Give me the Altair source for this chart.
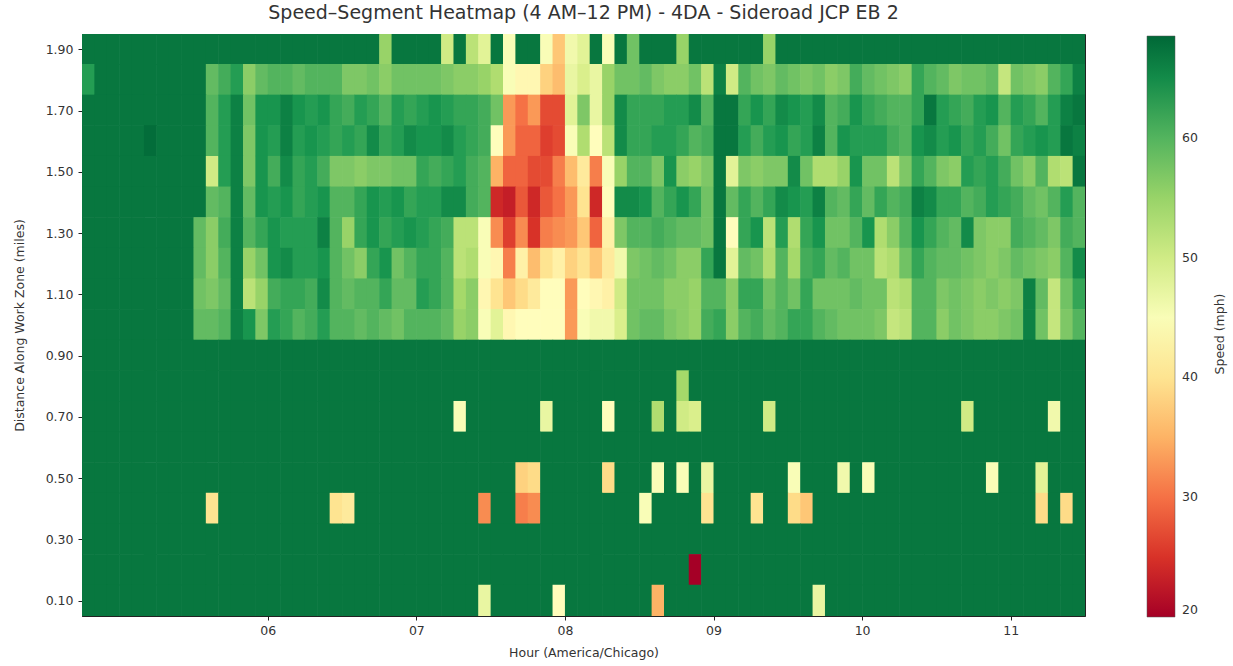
import altair as alt
import pandas as pd

# ---- axis / bin definitions ----
START_HOUR = 4.75          # first 5-minute bin starts at 04:45
BIN_MINUTES = 5
N_BINS = 81
distances = [1.9, 1.8, 1.7, 1.6, 1.5, 1.4, 1.3, 1.2, 1.1, 1.0,
             0.9, 0.8, 0.7, 0.6, 0.5, 0.4, 0.3, 0.2, 0.1]
x_ticks = [6, 7, 8, 9, 10, 11]
y_ticks = [0.1, 0.3, 0.5, 0.7, 0.9, 1.1, 1.3, 1.5, 1.7, 1.9]
cbar_ticks = [20, 30, 40, 50, 60]

# ---- speeds (mph), one list per distance row, 81 five-minute bins each ----
row_1_9 = [67, 67, 67, 67, 67, 67, 67, 67, 67, 67,
           67, 67, 67, 67, 67, 67, 67, 67, 67, 67,
           67, 67, 67, 67, 55, 67, 67, 67, 67, 50,
           67, 52, 48, 67, 45, 67, 67, 45, 37, 46,
           48, 67, 45, 67, 58, 67, 67, 67, 55, 67,
           67, 67, 67, 67, 67, 55, 67, 67, 67, 67,
           67, 67, 67, 67, 67, 67, 67, 67, 67, 67,
           67, 67, 67, 67, 67, 67, 67, 67, 67, 67,
           67]
row_1_8 = [63, 67, 67, 67, 67, 67, 67, 67, 67, 67,
           59, 61, 63, 56, 59, 60, 60, 59, 60, 60,
           60, 57, 57, 58, 56, 58, 58, 58, 58, 57,
           56, 56, 55, 53, 45, 43, 43, 38, 36, 47,
           49, 47, 55, 58, 58, 59, 57, 56, 56, 58,
           52, 66, 50, 60, 58, 57, 59, 58, 57, 58,
           56, 57, 61, 59, 58, 57, 56, 62, 60, 59,
           57, 58, 58, 59, 51, 58, 57, 56, 60, 62,
           66]
row_1_7 = [67, 67, 67, 67, 67, 67, 67, 67, 67, 67,
           60, 63, 66, 58, 64, 64, 66, 64, 63, 64,
           62, 61, 63, 62, 60, 63, 62, 63, 64, 63,
           62, 62, 61, 58, 33, 30, 33, 27, 27, 48,
           57, 47, 55, 65, 62, 62, 62, 63, 63, 65,
           60, 67, 67, 62, 64, 62, 65, 64, 63, 65,
           60, 61, 64, 62, 61, 60, 60, 62, 67, 63,
           62, 61, 63, 64, 60, 63, 62, 60, 63, 66,
           67]
row_1_6 = [67, 67, 67, 67, 67, 68, 67, 67, 67, 67,
           60, 63, 66, 57, 64, 63, 66, 63, 64, 63,
           62, 63, 62, 65, 62, 63, 65, 64, 64, 65,
           63, 62, 61, 44, 33, 29, 29, 26, 27, 45,
           53, 44, 52, 65, 62, 62, 63, 63, 62, 60,
           61, 67, 67, 63, 61, 63, 64, 62, 63, 66,
           60, 64, 63, 63, 63, 61, 60, 64, 65, 63,
           64, 62, 63, 61, 58, 62, 63, 64, 63, 67,
           66]
row_1_5 = [67, 67, 67, 67, 67, 67, 67, 67, 67, 67,
           50, 63, 66, 57, 64, 61, 65, 62, 63, 61,
           57, 57, 56, 57, 57, 58, 58, 62, 61, 62,
           63, 61, 60, 35, 29, 29, 27, 27, 31, 36,
           41, 31, 45, 55, 60, 60, 57, 64, 56, 55,
           57, 67, 48, 57, 56, 57, 57, 65, 58, 53,
           53, 55, 64, 58, 58, 52, 57, 62, 60, 57,
           56, 63, 62, 63, 61, 58, 56, 60, 53, 52,
           67]
row_1_4 = [67, 67, 67, 67, 67, 67, 67, 67, 67, 67,
           59, 60, 66, 59, 64, 63, 64, 62, 63, 64,
           60, 60, 62, 64, 63, 64, 62, 63, 63, 65,
           65, 61, 60, 24, 23, 28, 24, 28, 30, 33,
           40, 24, 44, 65, 65, 64, 60, 62, 64, 62,
           58, 67, 59, 62, 60, 62, 65, 64, 63, 66,
           60, 59, 62, 59, 62, 60, 61, 66, 65, 62,
           62, 60, 61, 63, 62, 61, 59, 58, 60, 63,
           60]
row_1_3 = [67, 67, 67, 67, 67, 67, 67, 67, 67, 59,
           56, 61, 66, 60, 62, 64, 63, 63, 63, 66,
           60, 55, 62, 64, 62, 63, 64, 63, 62, 61,
           52, 52, 45, 32, 26, 32, 25, 31, 32, 33,
           37, 29, 42, 57, 60, 60, 61, 60, 59, 59,
           58, 67, 44, 62, 64, 52, 63, 53, 62, 64,
           58, 58, 60, 64, 53, 56, 60, 64, 62, 60,
           59, 65, 57, 56, 56, 61, 60, 59, 57, 61,
           60]
row_1_2 = [67, 67, 67, 67, 67, 67, 67, 67, 67, 59,
           56, 60, 66, 55, 58, 64, 65, 63, 63, 64,
           60, 58, 56, 62, 64, 58, 60, 62, 62, 60,
           52, 53, 45, 43, 31, 42, 36, 40, 42, 38,
           40, 37, 41, 46, 57, 58, 59, 58, 56, 56,
           62, 67, 48, 59, 58, 53, 60, 54, 61, 62,
           59, 60, 58, 58, 52, 53, 58, 62, 60, 59,
           59, 58, 57, 56, 57, 59, 58, 57, 56, 60,
           65]
row_1_1 = [67, 67, 67, 67, 67, 67, 67, 67, 67, 58,
           57, 59, 66, 52, 55, 61, 62, 62, 61, 65,
           60, 59, 60, 60, 62, 59, 59, 63, 62, 60,
           54, 56, 43, 40, 37, 39, 41, 44, 44, 33,
           44, 43, 42, 50, 58, 58, 58, 56, 56, 55,
           60, 60, 56, 62, 62, 58, 60, 58, 62, 58,
           58, 58, 59, 58, 58, 52, 53, 60, 60, 57,
           58, 57, 56, 57, 56, 57, 66, 59, 51, 58,
           62]
row_1_0 = [67, 67, 67, 67, 67, 67, 67, 67, 67, 59,
           59, 60, 66, 64, 57, 63, 62, 60, 61, 63,
           60, 60, 59, 60, 59, 58, 60, 60, 60, 59,
           55, 56, 45, 48, 43, 44, 44, 44, 44, 33,
           45, 46, 46, 49, 58, 59, 59, 57, 56, 55,
           61, 62, 56, 60, 61, 59, 60, 62, 62, 60,
           59, 58, 58, 58, 57, 51, 52, 60, 60, 56,
           58, 57, 56, 56, 57, 58, 66, 58, 51, 57,
           60]
row_0_9 = [67, 67, 67, 67, 67, 67, 67, 67, 67, 67,
           67, 67, 67, 67, 67, 67, 67, 67, 67, 67,
           67, 67, 67, 67, 67, 67, 67, 67, 67, 67,
           67, 67, 67, 67, 67, 67, 67, 67, 67, 67,
           67, 67, 67, 67, 67, 67, 67, 67, 67, 67,
           67, 67, 67, 67, 67, 67, 67, 67, 67, 67,
           67, 67, 67, 67, 67, 67, 67, 67, 67, 67,
           67, 67, 67, 67, 67, 67, 67, 67, 67, 67,
           67]
row_0_8 = [67, 67, 67, 67, 67, 67, 67, 67, 67, 67,
           67, 67, 67, 67, 67, 67, 67, 67, 67, 67,
           67, 67, 67, 67, 67, 67, 67, 67, 67, 67,
           67, 67, 67, 67, 67, 67, 67, 67, 67, 67,
           67, 67, 67, 67, 67, 67, 67, 67, 54, 67,
           67, 67, 67, 67, 67, 67, 67, 67, 67, 67,
           67, 67, 67, 67, 67, 67, 67, 67, 67, 67,
           67, 67, 67, 67, 67, 67, 67, 67, 67, 67,
           67]
row_0_7 = [67, 67, 67, 67, 67, 67, 67, 67, 67, 67,
           67, 67, 67, 67, 67, 67, 67, 67, 67, 67,
           67, 67, 67, 67, 67, 67, 67, 67, 67, 67,
           45, 67, 67, 67, 67, 67, 67, 47, 67, 67,
           67, 67, 44, 67, 67, 67, 53, 67, 50, 49,
           67, 67, 67, 67, 67, 50, 67, 67, 67, 67,
           67, 67, 67, 67, 67, 67, 67, 67, 67, 67,
           67, 50, 67, 67, 67, 67, 67, 67, 46, 67,
           67]
row_0_6 = [67, 67, 67, 67, 67, 67, 67, 67, 67, 67,
           67, 67, 67, 67, 67, 67, 67, 67, 67, 67,
           67, 67, 67, 67, 67, 67, 67, 67, 67, 67,
           67, 67, 67, 67, 67, 67, 67, 67, 67, 67,
           67, 67, 67, 67, 67, 67, 67, 67, 67, 67,
           67, 67, 67, 67, 67, 67, 67, 67, 67, 67,
           67, 67, 67, 67, 67, 67, 67, 67, 67, 67,
           67, 67, 67, 67, 67, 67, 67, 67, 67, 67,
           67]
row_0_5 = [67, 67, 67, 67, 67, 67, 67, 67, 67, 67,
           67, 67, 67, 67, 67, 67, 67, 67, 67, 67,
           67, 67, 67, 67, 67, 67, 67, 67, 67, 67,
           67, 67, 67, 67, 67, 38, 39, 67, 67, 67,
           67, 67, 39, 67, 67, 67, 45, 67, 45, 67,
           47, 67, 67, 67, 67, 67, 67, 45, 67, 67,
           67, 46, 67, 45, 67, 67, 67, 67, 67, 67,
           67, 67, 67, 45, 67, 67, 67, 48, 67, 67,
           67]
row_0_4 = [67, 67, 67, 67, 67, 67, 67, 67, 67, 67,
           40, 67, 67, 67, 67, 67, 67, 67, 67, 67,
           40, 41, 67, 67, 67, 67, 67, 67, 67, 67,
           67, 67, 32, 67, 67, 31, 32, 67, 67, 67,
           67, 67, 67, 67, 67, 45, 67, 67, 67, 67,
           40, 67, 67, 67, 40, 67, 67, 39, 37, 67,
           67, 67, 67, 67, 67, 67, 67, 67, 67, 67,
           67, 67, 67, 67, 67, 67, 67, 39, 67, 39,
           67]
row_0_3 = [67, 67, 67, 67, 67, 67, 67, 67, 67, 67,
           67, 67, 67, 67, 67, 67, 67, 67, 67, 67,
           67, 67, 67, 67, 67, 67, 67, 67, 67, 67,
           67, 67, 67, 67, 67, 67, 67, 67, 67, 67,
           67, 67, 67, 67, 67, 67, 67, 67, 67, 67,
           67, 67, 67, 67, 67, 67, 67, 67, 67, 67,
           67, 67, 67, 67, 67, 67, 67, 67, 67, 67,
           67, 67, 67, 67, 67, 67, 67, 67, 67, 67,
           67]
row_0_2 = [67, 67, 67, 67, 67, 67, 67, 67, 67, 67,
           67, 67, 67, 67, 67, 67, 67, 67, 67, 67,
           67, 67, 67, 67, 67, 67, 67, 67, 67, 67,
           67, 67, 67, 67, 67, 67, 67, 67, 67, 67,
           67, 67, 67, 67, 67, 67, 67, 67, 67, 20,
           67, 67, 67, 67, 67, 67, 67, 67, 67, 67,
           67, 67, 67, 67, 67, 67, 67, 67, 67, 67,
           67, 67, 67, 67, 67, 67, 67, 67, 67, 67,
           67]
row_0_1 = [67, 67, 67, 67, 67, 67, 67, 67, 67, 67,
           67, 67, 67, 67, 67, 67, 67, 67, 67, 67,
           67, 67, 67, 67, 67, 67, 67, 67, 67, 67,
           67, 67, 47, 67, 67, 67, 67, 67, 44, 67,
           67, 67, 67, 67, 67, 67, 35, 67, 67, 67,
           67, 67, 67, 67, 67, 67, 67, 67, 67, 47,
           67, 67, 67, 67, 67, 67, 67, 67, 67, 67,
           67, 67, 67, 67, 67, 67, 67, 67, 67, 67,
           67]

rows = [row_1_9, row_1_8, row_1_7, row_1_6, row_1_5, row_1_4, row_1_3,
        row_1_2, row_1_1, row_1_0, row_0_9, row_0_8, row_0_7, row_0_6,
        row_0_5, row_0_4, row_0_3, row_0_2, row_0_1]

# matplotlib RdYlGn control colours
rdylgn = ["#a50026", "#d73027", "#f46d43", "#fdae61", "#fee08b", "#ffffbf",
          "#d9ef8b", "#a6d96a", "#66bd63", "#1a9850", "#006837"]
CMIN, CMAX = 20.0, 68.5

# ---- build table ----
bin_h = BIN_MINUTES / 60.0
# tiny overlap of neighbouring cells so no anti-aliasing seams show through
SEAM_X = 0.004   # hours
SEAM_Y = 0.002   # miles
records = []
for d, vals in zip(distances, rows):
    assert len(vals) == N_BINS
    for c, v in enumerate(vals):
        t0 = START_HOUR + c * bin_h
        records.append({"t0": t0, "t1": t0 + bin_h + SEAM_X,
                        "d0": round(d - 0.05, 3), "d1": round(d + 0.05, 3) + SEAM_Y,
                        "speed": v})
df = pd.DataFrame(records)

cscale = alt.Scale(type="linear", domain=[CMIN, CMAX], range=rdylgn, interpolate="rgb")

FONT = "DejaVu Sans"
X_END = START_HOUR + N_BINS * bin_h

heat = alt.Chart(df).mark_rect(clip=True).encode(
    x=alt.X("t0:Q",
            scale=alt.Scale(domain=[START_HOUR, X_END], nice=False, zero=False),
            axis=alt.Axis(values=x_ticks, title="Hour (America/Chicago)",
                          labelExpr="datum.value < 10 ? '0' + datum.value : '' + datum.value",
                          grid=False, tickSize=4, labelPadding=4, titlePadding=10)),
    x2="t1:Q",
    y=alt.Y("d0:Q",
            scale=alt.Scale(domain=[0.05, 1.95], nice=False, zero=False),
            axis=alt.Axis(values=y_ticks, format=".2f",
                          title="Distance Along Work Zone (miles)",
                          grid=False, tickSize=4, labelPadding=5, titlePadding=19)),
    y2="d1:Q",
    color=alt.Color("speed:Q", scale=cscale,
                    legend=alt.Legend(type="gradient", title=None,
                                      orient="none",
                                      legendX=1065, legendY=2,
                                      direction="vertical",
                                      gradientLength=581, gradientThickness=28,
                                      values=cbar_ticks, labelOffset=7,
                                      labelFontSize=12.5, labelFont=FONT,
                                      labelColor="#333",
                                      gradientStrokeColor="#555",
                                      gradientStrokeWidth=0.5)),
)

cbar_label = alt.Chart(pd.DataFrame({"label": ["Speed (mph)"]})).mark_text(
    angle=270, font=FONT, fontSize=12.5, color="#333", align="center", baseline="middle"
).encode(
    text="label:N",
    x=alt.value(1138),
    y=alt.value(300),
)

chart = alt.layer(heat, cbar_label).properties(
    width=1003,
    height=582,
    title=alt.Title("Speed\u2013Segment Heatmap (4 AM\u201312 PM) - 4DA - Sideroad  JCP EB 2",
                    fontSize=19, font=FONT, fontWeight="normal", color="#333",
                    anchor="middle", offset=11),
    autosize=alt.AutoSizeParams(type="none"),
    padding={"left": 82, "top": 34, "right": 148, "bottom": 50},
).configure_axis(
    labelFont=FONT, titleFont=FONT, labelFontSize=12.5, titleFontSize=12.5,
    labelColor="#333", titleColor="#333", titleFontWeight="normal",
    domainColor="#222", tickColor="#222",
).configure_view(
    stroke="#222", strokeWidth=1,
)

chart.save("out.html", embed_options={"renderer": "svg", "actions": False})
